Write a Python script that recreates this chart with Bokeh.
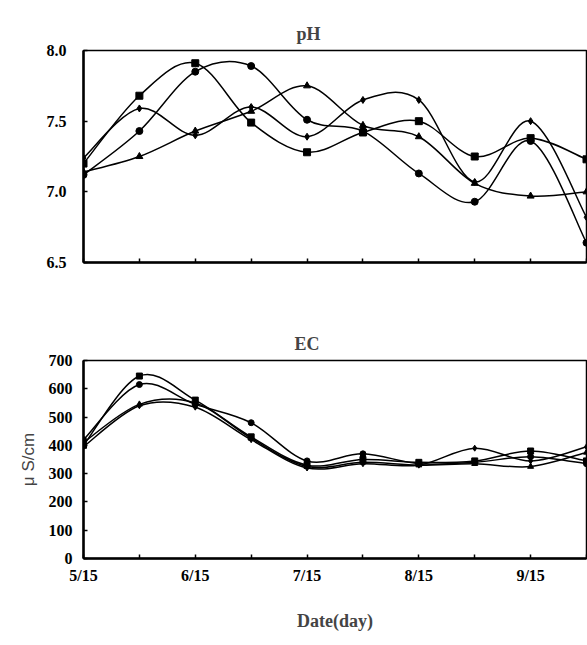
from bokeh.plotting import figure
from bokeh.layouts import column
from bokeh.models import FixedTicker, Range1d, ColumnDataSource
from bokeh.embed import file_html
from bokeh.resources import INLINE

# ---- data ----
dates = ["5/15", "6/1", "6/15", "7/1", "7/15", "8/1", "8/15", "9/1", "9/15", "10/1"]
x_tick_labels = ["5/15", "", "6/15", "", "7/15", "", "8/15", "", "9/15", ""]

ph_a = [7.20, 7.68, 7.91, 7.49, 7.28, 7.42, 7.50, 7.25, 7.38, 7.23]
ph_b = [7.12, 7.43, 7.85, 7.89, 7.51, 7.43, 7.13, 6.93, 7.36, 6.64]
ph_c = [7.24, 7.59, 7.40, 7.60, 7.39, 7.65, 7.65, 7.07, 7.50, 6.82]
ph_d = [7.14, 7.25, 7.43, 7.57, 7.75, 7.47, 7.39, 7.06, 6.97, 7.00]

ec_a = [400, 645, 560, 430, 330, 350, 340, 345, 380, 345]
ec_b = [420, 615, 545, 480, 345, 370, 335, 340, 360, 335]
ec_c = [395, 540, 535, 420, 320, 335, 330, 390, 345, 395]
ec_d = [410, 545, 550, 425, 325, 340, 330, 335, 325, 375]

ph_ticks = [6.5, 7.0, 7.5, 8.0]
ph_tick_labels = ["6.5", "7.0", "7.5", "8.0"]
ec_ticks = [0, 100, 200, 300, 400, 500, 600, 700]
ec_tick_labels = ["0", "100", "200", "300", "400", "500", "600", "700"]

markers = ["square", "circle", "diamond", "triangle"]

SERIF = "Liberation Serif"


def smooth(xs, ys):
    """Bezier segments (Catmull-Rom style smoothing, like a spreadsheet's smoothed line)."""
    n = len(xs)
    d = dict(x0=[], y0=[], x1=[], y1=[], cx0=[], cy0=[], cx1=[], cy1=[])
    for i in range(n - 1):
        ip = max(i - 1, 0)
        inx = min(i + 2, n - 1)
        d["x0"].append(xs[i]); d["y0"].append(ys[i])
        d["x1"].append(xs[i + 1]); d["y1"].append(ys[i + 1])
        d["cx0"].append(xs[i] + (xs[i + 1] - xs[ip]) / 6.0)
        d["cy0"].append(ys[i] + (ys[i + 1] - ys[ip]) / 6.0)
        d["cx1"].append(xs[i + 1] - (xs[inx] - xs[i]) / 6.0)
        d["cy1"].append(ys[i + 1] - (ys[inx] - ys[i]) / 6.0)
    return ColumnDataSource(d)


def style(p):
    p.outline_line_color = "black"
    p.outline_line_width = 1.5
    p.xgrid.visible = False
    p.ygrid.visible = False
    for ax in (p.xaxis, p.yaxis):
        ax.axis_line_width = 2.5
        ax.axis_line_color = "black"
        ax.major_tick_in = 4
        ax.major_tick_out = 0
        ax.major_tick_line_width = 1.5
        ax.minor_tick_line_color = None
        ax.major_label_text_font = SERIF
        ax.major_label_text_font_style = "bold"
        ax.major_label_text_font_size = "16px"
        ax.major_label_text_color = "black"
    p.title.text_font = SERIF
    p.title.text_font_style = "bold"
    p.title.text_font_size = "18px"
    p.title.align = "left"


xs = list(range(len(dates)))

# ---- pH chart ----
top = figure(width=587, height=300, output_backend="svg", toolbar_location=None,
             x_range=Range1d(0, 9), y_range=Range1d(6.5, 8.0), title="pH",
             min_border_left=81, min_border_right=1, min_border_top=50, min_border_bottom=38)
style(top)
top.title.offset = 213
top.title.standoff = 13
top.xaxis.ticker = FixedTicker(ticks=xs)
top.xaxis.major_label_overrides = {i: "" for i in xs}
top.yaxis.ticker = FixedTicker(ticks=ph_ticks)
top.yaxis.major_label_overrides = dict(zip(ph_ticks, ph_tick_labels))
top.yaxis.major_label_standoff = 17

for ys, m in zip([ph_a, ph_b, ph_c, ph_d], markers):
    top.bezier(x0="x0", y0="y0", x1="x1", y1="y1", cx0="cx0", cy0="cy0", cx1="cx1", cy1="cy1",
               source=smooth(xs, ys), line_color="black", line_width=1.5)
    top.scatter(xs, ys, marker=m, size=7, color="black")

# ---- EC chart ----
bot = figure(width=587, height=345, output_backend="svg", toolbar_location=None,
             x_range=Range1d(0, 9), y_range=Range1d(0, 700), title="EC",
             min_border_left=83, min_border_right=1, min_border_top=60, min_border_bottom=87)
style(bot)
bot.title.offset = 211
bot.title.standoff = 13
bot.xaxis.ticker = FixedTicker(ticks=xs)
bot.xaxis.major_label_overrides = dict(zip(xs, x_tick_labels))
bot.xaxis.major_label_standoff = 8
bot.xaxis.axis_label = "Date(day)"
bot.xaxis.axis_label_text_font = SERIF
bot.xaxis.axis_label_text_font_style = "bold"
bot.xaxis.axis_label_text_font_size = "18px"
bot.xaxis.axis_label_standoff = 24
bot.yaxis.ticker = FixedTicker(ticks=ec_ticks)
bot.yaxis.major_label_overrides = dict(zip(ec_ticks, ec_tick_labels))
bot.yaxis.major_label_standoff = 11
bot.yaxis.axis_label = "μ S/cm"
bot.yaxis.axis_label_text_font = "Liberation Sans"
bot.yaxis.axis_label_text_font_style = "normal"
bot.yaxis.axis_label_text_font_size = "17px"
bot.yaxis.axis_label_standoff = 8

for ys, m in zip([ec_a, ec_b, ec_c, ec_d], markers):
    bot.bezier(x0="x0", y0="y0", x1="x1", y1="y1", cx0="cx0", cy0="cy0", cx1="cx1", cy1="cy1",
               source=smooth(xs, ys), line_color="black", line_width=1.5)
    bot.scatter(xs, ys, marker=m, size=6, color="black")

layout = column(top, bot, spacing=0)
open("out.html", "w").write(file_html(layout, INLINE))
